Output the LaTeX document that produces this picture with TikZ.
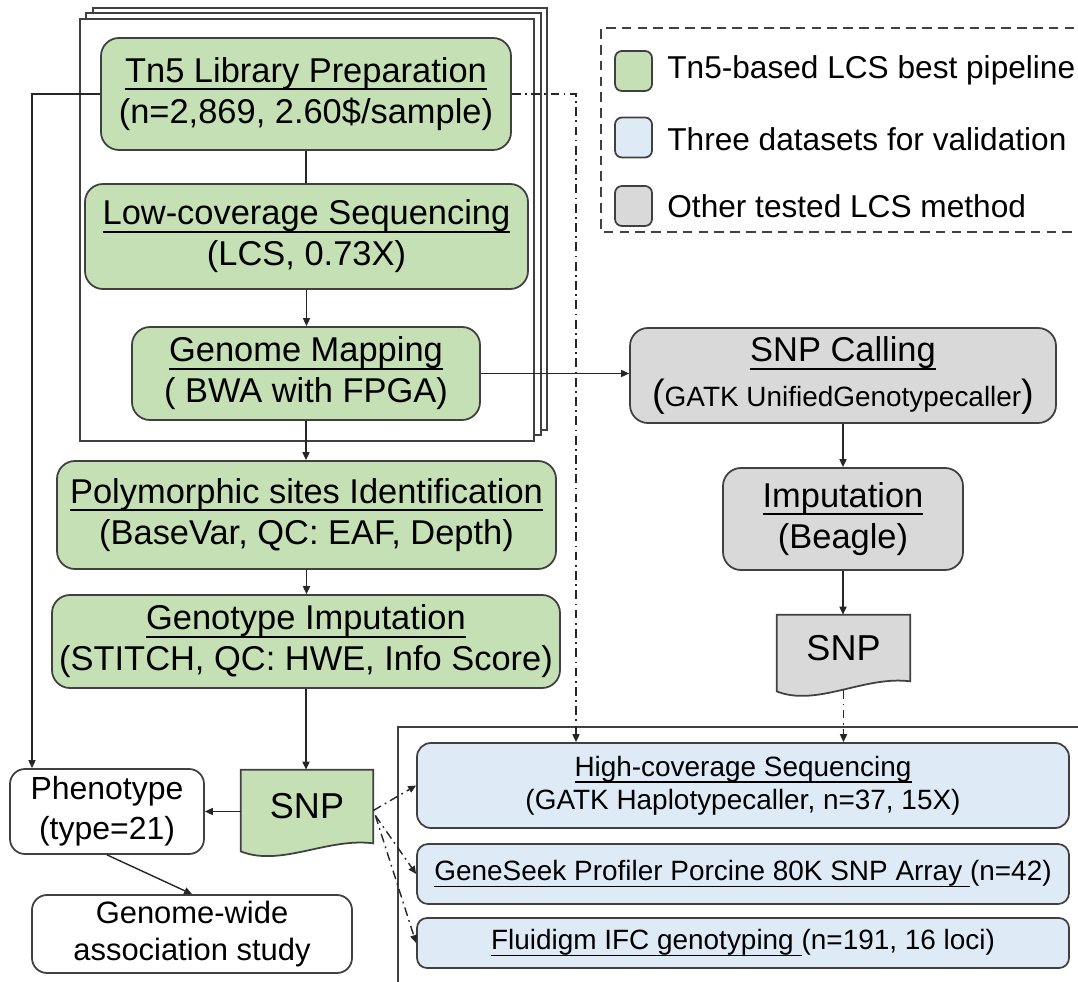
\documentclass[tikz,border=0pt]{standalone}
\usepackage{fontspec}
\setmainfont{Liberation Sans}
\usetikzlibrary{arrows.meta,calc}
\definecolor{gfill}{HTML}{C5E0B4}
\definecolor{bfill}{HTML}{DEEBF7}
\definecolor{kfill}{HTML}{D9D9D9}
\definecolor{edgec}{HTML}{404040}
\newsavebox\ulbox
\newcommand{\uln}[1]{\sbox\ulbox{#1}\leavevmode\rlap{\rule[-0.23em]{\wd\ulbox}{0.06em}}\usebox\ulbox}
\newcommand{\fs}[2]{\fontsize{#1}{#2}\selectfont}
\pgfdeclarelayer{bg}
\pgfsetlayers{bg,main}
\begin{document}
\begin{tikzpicture}[x=0.02cm,y=-0.02cm,
  sz/.style 2 args={minimum width=#1*0.02cm, minimum height=#2*0.02cm},
  basebox/.style={draw=edgec, line width=1pt, align=center, inner sep=0pt, rounded corners=0.36cm},
  gbox/.style={basebox, fill=gfill, font=\fs{19.6}{23.3}},
  kbox/.style={basebox, fill=kfill, font=\fs{19.6}{23.3}},
  vbox/.style={basebox, fill=bfill, rounded corners=0.28cm, font=\fs{15.9}{18.8}},
  wbox/.style={basebox, fill=white, rounded corners=0.3cm},
  docnode/.style={inner sep=0pt, font=\fs{20.5}{24}},
  docshape/.style={draw=edgec, line width=1pt},
  stackframe/.style={draw=edgec, line width=0.9pt, fill=white},
  conn/.style={draw=black!85, line width=0.8pt},
  arr/.style={conn, -{Triangle[length=4.5pt,width=4pt]}},
  dd/.style={conn, dash pattern=on 5pt off 2.5pt on 1pt off 2.5pt},
  ddarr/.style={dd, -{Triangle[length=4.5pt,width=4pt]}},
  legsq/.style={draw=edgec, line width=1pt, rounded corners=0.14cm, sz={37}{40}},
  legtxt/.style={anchor=west, inner sep=0pt, font=\fs{18}{21}}
]
\useasboundingbox (0,0) rectangle (1078,982);
\clip (0,0) rectangle (1078,982);

% stacked frame
\draw[stackframe] (93,8) rectangle (547,430);
\draw[stackframe] (86,13) rectangle (541,435);
\draw[stackframe] (80,19) rectangle (534,441);

% legend
\draw[draw=edgec, line width=0.8pt, dash pattern=on 5.5pt off 3.5pt] (1090,28) -- (601,28) -- (601,232) -- (1090,232);
\node[legsq, fill=gfill] (lg1) at (633.5,71) {};
\node[legsq, fill=bfill] (lg2) at (633.5,137.5) {};
\node[legsq, fill=kfill] (lg3) at (633.5,206) {};
\node[legtxt] (lt1) at (667,70) {Tn5-based LCS best pipeline};
\node[legtxt] (lt2) at (667,139) {Three datasets for validation};
\node[legtxt] (lt3) at (667,206) {Other tested LCS method};

% validation frame
\draw[draw=edgec, line width=0.9pt] (398,995) -- (398,727) -- (1090,727);

% main pipeline
\node[gbox, sz={410}{112}] (tn5) at (306,94) {\uln{Tn5 Library Preparation}\\(n=2,869, 2.60\$/sample)};
\node[gbox, sz={443}{105}] (low) at (306.5,236.5) {\uln{Low-coverage Sequencing}\\(LCS, 0.73X)};
\node[gbox, sz={348}{93}] (map) at (306,373.5) {\uln{Genome Mapping}\\( BWA with FPGA)};
\node[gbox, sz={499}{108}] (poly) at (306.5,515) {\uln{Polymorphic sites Identification}\\(BaseVar, QC: EAF, Depth)};
\node[gbox, sz={508}{93}] (geno) at (306,641.5) {\uln{Genotype Imputation}\\(STITCH, QC: HWE, Info Score)};
\node[docnode, sz={132}{73}] (snpg) at (307,806.5) {SNP};
\node[wbox, sz={194}{85}, font=\fs{18.2}{22.8}] (pheno) at (107,811.5) {Phenotype\\(type=21)};
\node[wbox, sz={320}{78}, font=\fs{17.6}{21}] (gwas) at (192,934) {Genome-wide\\association study};

% other method
\node[kbox, sz={426}{95}] (call) at (843,375.5) {\uln{SNP Calling}\\[2pt]{\fs{21.6}{23.3}(}{\fs{15.9}{23.3}GATK UnifiedGenotypecaller}{\fs{21.6}{23.3})}};
\node[kbox, sz={240}{102}] (imp) at (843,519) {\uln{Imputation}\\(Beagle)};
\node[docnode, sz={133}{66}] (snpk) at (843.5,648) {SNP};

% validation datasets
\node[vbox, sz={652}{85}] (hcs) at (743,785.5) {\uln{High-coverage Sequencing}\\(GATK Haplotypecaller, n=37, 15X)};
\node[vbox, sz={652}{60}, rounded corners=0.22cm] (gs) at (743,874) {\uln{GeneSeek Profiler Porcine 80K SNP Array }(n=42)};
\node[vbox, sz={652}{50}, rounded corners=0.2cm] (fl) at (743,943) {\uln{Fluidigm IFC genotyping }(n=191, 16 loci)};

% document shapes
\begin{pgfonlayer}{bg}
\filldraw[docshape, fill=gfill] (snpg.north west) -- (snpg.north east) -- (snpg.south east)
  .. controls +(-46,-6) and +(40,16) .. ($(snpg.south west)+(0,8)$) -- cycle;
\filldraw[docshape, fill=kfill] (snpk.north west) -- (snpk.north east) -- (snpk.south east)
  .. controls +(-46,-6) and +(40,16) .. ($(snpk.south west)+(0,10)$) -- cycle;
\end{pgfonlayer}

% connectors
\draw[conn] (tn5.south) -- (tn5.south |- low.north);
\draw[arr] (low.south) -- (low.south |- map.north);
\draw[arr] (map.south) -- (map.south |- poly.north);
\draw[arr] (poly.south) -- (poly.south |- geno.north);
\draw[arr] (geno.south) -- (geno.south |- snpg.north);
\draw[arr] (snpg.west |- pheno.east) -- (pheno.east);
\draw[arr] (pheno.south) -- (gwas.north);
\coordinate (lft) at (32,94);
\draw[arr] (tn5.west) -- (lft) -- (lft |- pheno.north);
\coordinate (rgt) at (576,94);
\draw[ddarr] (tn5.east) -- (rgt) -- (rgt |- hcs.north);
\draw[arr] (map.east) -- (map.east -| call.west);
\draw[arr] (call.south) -- (call.south |- imp.north);
\draw[arr] (imp.south) -- (imp.south |- snpk.north);
\coordinate (sk) at ($(snpk.south)+(0,9)$);
\draw[ddarr] (sk) -- (sk |- hcs.north);
\coordinate (se1) at ($(snpg.east)+(0,4)$);
\coordinate (se2) at ($(snpg.east)+(2,9)$);
\draw[ddarr] (se1) -- (hcs.west);
\draw[ddarr] (se2) -- (gs.west);
\draw[ddarr] (se2) -- (fl.west);
\end{tikzpicture}
\end{document}
